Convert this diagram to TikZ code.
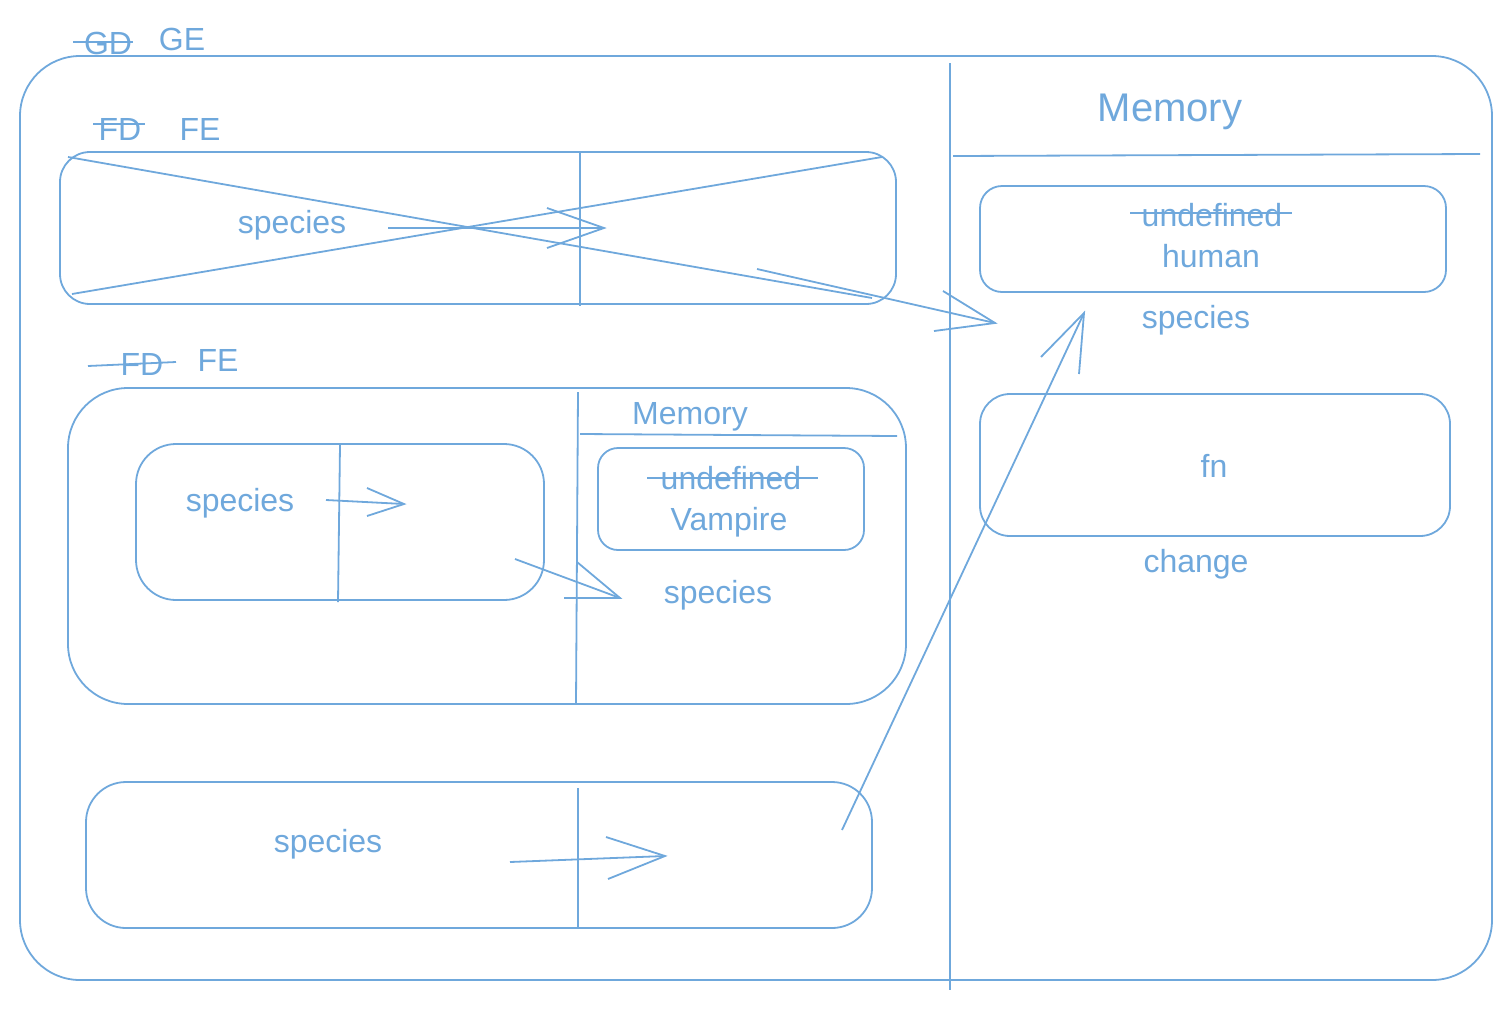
\documentclass[tikz,border=0pt]{standalone}
\usepackage{fontspec}
\setmainfont{Liberation Sans}
\definecolor{sketch}{RGB}{111,168,220}

\begin{document}
\begin{tikzpicture}[x=1pt, y=-1pt,
    ln/.style = {draw=sketch, line width=1.8pt},
    lbl/.style = {text=sketch, inner sep=0pt, yshift=-2pt, font=\fontsize{32}{38}\selectfont},
    big/.style = {lbl, font=\fontsize{40}{46}\selectfont}]
    \useasboundingbox (0,0) rectangle (1512,1010);
    % frame
    \draw[ln, rounded corners=60pt] (20,56) rectangle (1492,980);
    \draw[ln] (950,63) -- (950,990);
    \node[lbl] (gd) at (108,41) {GD};
    \node[lbl] (ge) at (182,37) {GE};
    \draw[ln] (73,42) -- (133,42);
    % memory
    \node[big] (mem) at (1170,110) {Memory};
    \draw[ln] (953,156) -- (1480,154);
    \draw[ln, rounded corners=22pt] (980,186) rectangle (1446,292);
    \node[lbl] (und) at (1212,213) {undefined};
    \draw[ln] (1130,213) -- (1292,213);
    \node[lbl] (hum) at (1211,254) {human};
    \node[lbl] (spm) at (1196,318) {species};
    \draw[ln, rounded corners=30pt] (980,394) rectangle (1450,536);
    \node[lbl] (fn) at (1214,464) {fn};
    \node[lbl] (chg) at (1196,562) {change};
    % first frame
    \node[lbl] (fd1) at (120,127) {FD};
    \node[lbl] (fe1) at (200,127) {FE};
    \draw[ln] (93,124) -- (145,124);
    \draw[ln, rounded corners=30pt] (60,152) rectangle (896,304);
    \draw[ln] (580,153) -- (580,306);
    \draw[ln] (68,157) -- (872,298);
    \draw[ln] (72,294) -- (882,157);
    \node[lbl] (sp1) at (292,223) {species};
    \coordinate (a1) at (388,228);
    \coordinate (b1) at (604,228);
    \draw[ln] (a1) -- (b1);
    \draw[ln] (547,208) -- (b1) -- (547,248);
    \coordinate (a2) at (757,269);
    \coordinate (b2) at (995,323);
    \draw[ln] (a2) -- (b2);
    \draw[ln] (943,291) -- (b2) -- (934,331);
    % second frame
    \node[lbl] (fd2) at (142,362) {FD};
    \node[lbl] (fe2) at (218,358) {FE};
    \draw[ln] (88,366) -- (176,362);
    \draw[ln, rounded corners=60pt] (68,388) rectangle (906,704);
    \draw[ln] (578,392) -- (576,704);
    \node[lbl] (mem2) at (690,415) {Memory};
    \draw[ln] (580,434) -- (897,436);
    \draw[ln, rounded corners=20pt] (598,448) rectangle (864,550);
    \node[lbl] (und2) at (731,476) {undefined};
    \draw[ln] (647,478) -- (818,478);
    \node[lbl] (vamp) at (729,520) {Vampire};
    \node[lbl] (sp3) at (718,593) {species};
    \draw[ln, rounded corners=40pt] (136,444) rectangle (544,600);
    \draw[ln] (340,445) -- (338,602);
    \node[lbl] (sp2) at (240,501) {species};
    \coordinate (a3) at (326,500);
    \coordinate (b3) at (404,504);
    \draw[ln] (a3) -- (b3);
    \draw[ln] (367,488) -- (b3) -- (367,516);
    \coordinate (a4) at (515,559);
    \coordinate (b4) at (620,598);
    \draw[ln] (a4) -- (b4);
    \draw[ln] (577,562) -- (b4) -- (564,598);
    % third frame
    \draw[ln, rounded corners=40pt] (86,782) rectangle (872,928);
    \draw[ln] (578,788) -- (578,928);
    \node[lbl] (sp4) at (328,842) {species};
    \coordinate (a5) at (510,862);
    \coordinate (b5) at (665,856);
    \draw[ln] (a5) -- (b5);
    \draw[ln] (606,837) -- (b5) -- (608,879);
    \coordinate (a6) at (842,830);
    \coordinate (b6) at (1084,313);
    \draw[ln] (a6) -- (b6);
    \draw[ln] (1041,357) -- (b6) -- (1079,374);
\end{tikzpicture}
\end{document}
